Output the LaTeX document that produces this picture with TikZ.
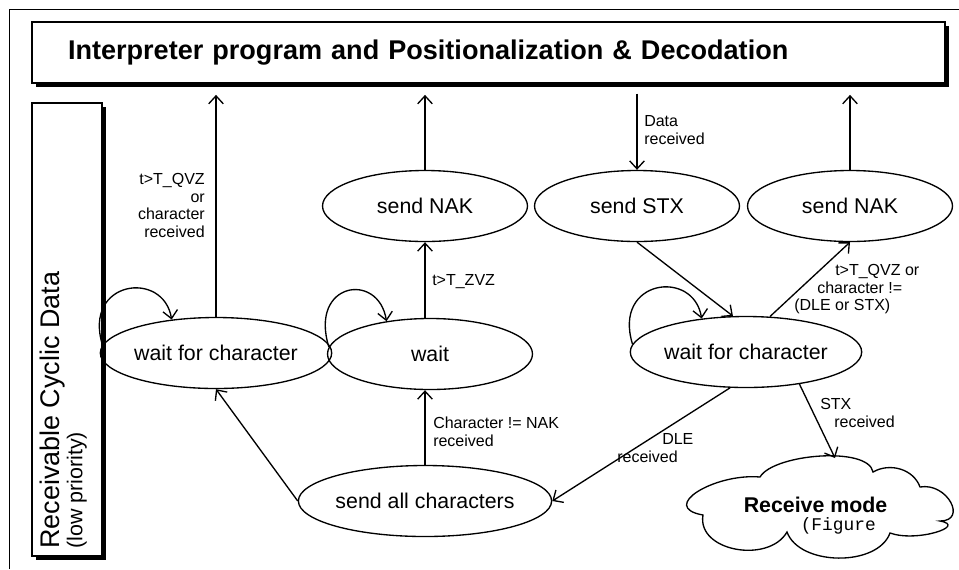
\documentclass[tikz,border=0pt]{standalone}
\usepackage{fontspec}
\setmainfont{Liberation Sans}
\setmonofont{Liberation Mono}
\usetikzlibrary{arrows.meta,positioning,shapes.geometric,shadows}

\begin{document}
\begin{tikzpicture}[
  x=0.75pt, y=-0.75pt,
  every node/.style={inner sep=0},
  state/.style={ellipse, draw, line width=1pt, minimum width=153.75pt, minimum height=53.25pt,
    font=\fontsize{16}{19}\selectfont},
  block/.style={draw, line width=0.8pt, fill=white,
    drop shadow={shadow xshift=3pt, shadow yshift=-3pt, fill=black, opacity=1}},
  cond/.style={font=\fontsize{12}{13.3}\selectfont},
  arr/.style={line width=1pt, -{Straight Barb[length=6pt,width=11pt]}},
]
\useasboundingbox (0,0) rectangle (959,569);

%% frame and the two lanes
\draw[line width=0.9pt] (9.5,569) -- (9.5,9.5) -- (959,9.5);
\node[block, minimum width=684.75pt, minimum height=45.75pt, text width=630.75pt, inner xsep=27pt,
  align=left, font=\bfseries\fontsize{20.3}{24}\selectfont] (title) at (488.5,52.5)
  {Interpreter program and Positionalization \& Decodation};
\node[block, minimum width=52.5pt, minimum height=339.75pt] (lane) at (67,329.5) {};
\node[rotate=90, anchor=north west, align=left, font=\fontsize{16.1}{17.3}\selectfont] (lanetxt) at (39.5,549)
  {{\fontsize{20.2}{22}\selectfont Receivable Cyclic Data}\\(low priority)};

%% states
\node[state] (wL)   at (216,353) {wait for character};
\node[state] (wM)   at (430,354) {wait};
\node[state] (nakM) at (425,206) {send NAK};
\node[state] (stx)  at (637,206) {send STX};
\node[state] (nakR) at (850,206) {send NAK};
\node[state] (wR)   at (746,352) {wait for character};
\node[state] (sac)  at (425,501) {send all characters};

%% receive mode cloud
\draw[line width=1pt] (760,477) to[out=60,in=100,looseness=0.6] (873,472) to[out=30,in=110] (920,487)
  to[out=10,in=0,looseness=1.8] (940,521) to[out=-10,in=-20,looseness=1.4] (890,533)
  to[out=-110,in=-70,looseness=0.9] (787,532) to[out=-120,in=-100,looseness=1.1] (703,515)
  to[out=170,in=175,looseness=1.7] cycle;
\coordinate (rxtop) at (835,458);
\node[anchor=north west, align=left, font=\fontsize{13.4}{13.5}\selectfont] (rxtxt) at (743.5,497)
  {{\bfseries\fontsize{16}{19}\selectfont Receive mode}\\\hspace{42.75pt}{\ttfamily (Figure}};

%% self loops
\foreach \s in {wL,wM,wR} {
  \draw[arr] (\s.176) .. controls +(-20,-65) and +(-8,-50) .. (\s.143);
}

%% transitions to the interpreter
\draw[arr, shorten >=8.5pt] (wL.north) -- (wL.north |- title.south);
\draw[arr, shorten >=8.5pt] (nakM.north) -- (nakM.north |- title.south);
\draw[arr, shorten >=8.5pt] (nakR.north) -- (nakR.north |- title.south);
\draw[arr, shorten <=7.5pt] (stx.north |- title.south) -- (stx.north);

%% transitions between states
\draw[arr] (nakM.south |- wM.north) -- (nakM.south);
\draw[arr] (sac.north) -- (sac.north |- wM.south);
\draw[arr] (sac.west) -- (wL.south);
\draw[arr] (stx.south) -- (wR.110);
\draw[arr] (wR.56) -- (nakR.south);
\draw[arr] (wR.246) -- (sac.east);
\draw[arr] (wR.-31) -- (rxtop);

%% conditions
\node[cond, anchor=north east, align=right] (cQVZ) at (205,173) {t>T\_QVZ\\or\\character\\received};
\node[cond, anchor=base west] (cZVZ) at (432,285) {t>T\_ZVZ};
\node[cond, anchor=north west, align=left] (cData) at (644,115) {Data\\received};
\node[cond, anchor=north west, align=left] (cNak) at (794,264)
  {\hspace{30.75pt}t>T\_QVZ or\\\hspace{17.25pt}character !=\\(DLE or STX)};
\node[cond, anchor=north west, align=left] (cChar) at (433,417) {Character != NAK\\received};
\node[cond, anchor=north west, align=left] (cDLE) at (617,433) {\hspace{33.75pt}DLE\\received};
\node[cond, anchor=north west, align=left] (cSTX) at (820,398) {STX\\\hspace{10.5pt}received};

\end{tikzpicture}
\end{document}
